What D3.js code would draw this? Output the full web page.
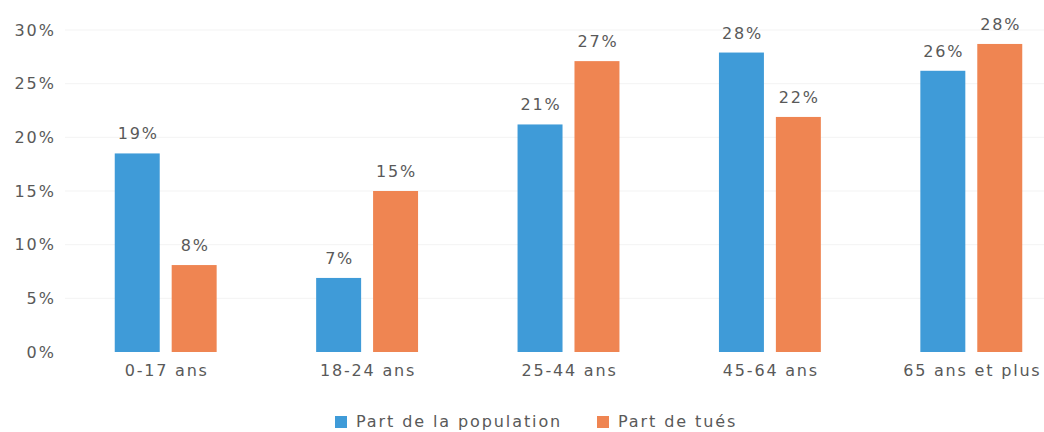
<!DOCTYPE html>
<html>
<head>
<meta charset="utf-8">
<script src="https://cdn.jsdelivr.net/npm/d3@7"></script>
<style>
  body { margin: 0; background: #fff; }
  text { font-family: "DejaVu Sans", sans-serif; fill: #595959; }
</style>
</head>
<body>
<svg id="chart" width="1044" height="432"></svg>
<script>
  // data
  var categories = ['0-17 ans', '18-24 ans', '25-44 ans', '45-64 ans', '65 ans et plus'];
  var seriesNames = ['Part de la population', 'Part de tués'];
  var population = [18.5, 6.9, 21.2, 27.9, 26.2];
  var tues = [8.1, 15.0, 27.1, 21.9, 28.7];
  var populationLabels = ['19%', '7%', '21%', '28%', '26%'];
  var tuesLabels = ['8%', '15%', '27%', '22%', '28%'];
  var yTicks = [0, 5, 10, 15, 20, 25, 30];
  var colors = ['#3f9bd8', '#ef8552'];

  var svg = d3.select('#chart');

  // plot area runs past the right edge like the original crop
  var y = d3.scaleLinear().domain([0, 30]).range([352, 30]);
  var x0 = d3.scaleBand().domain(categories).range([65, 1072]).padding(0);
  var step = x0.step();
  var x1 = d3.scaleBand().domain(seriesNames)
      .range([step * 0.247, step * 0.753])
      .paddingInner(0.21).paddingOuter(0);

  // faint gridlines
  svg.append('g')
    .selectAll('line')
    .data(yTicks.slice(1))
    .enter()
    .append('line')
    .attr('x1', 65).attr('x2', 1044)
    .attr('y1', function(d) { return y(d); })
    .attr('y2', function(d) { return y(d); })
    .attr('stroke', '#f3f3f3')
    .attr('stroke-width', 1);

  // y axis, no domain line
  var yAxis = d3.axisLeft(y)
      .tickValues(yTicks)
      .tickSize(0)
      .tickPadding(0)
      .tickFormat(function(d) { return d + '%'; });
  var gy = svg.append('g')
      .attr('transform', 'translate(56,0)')
      .call(yAxis);
  gy.select('.domain').remove();
  gy.selectAll('text')
    .style('font-family', '"DejaVu Sans", sans-serif')
    .style('font-size', '16px')
    .style('letter-spacing', '2px')
    .attr('fill', '#595959');

  var rows = categories.map(function(c, i) {
    return {
      cat: c,
      vals: [
        {name: seriesNames[0], v: population[i], label: populationLabels[i]},
        {name: seriesNames[1], v: tues[i], label: tuesLabels[i]}
      ]
    };
  });

  var groups = svg.append('g')
    .selectAll('g')
    .data(rows)
    .enter()
    .append('g')
    .attr('transform', function(d) { return 'translate(' + x0(d.cat) + ',0)'; });

  groups.selectAll('rect')
    .data(function(d) { return d.vals; })
    .enter()
    .append('rect')
    .attr('x', function(d) { return x1(d.name); })
    .attr('width', x1.bandwidth())
    .attr('y', function(d) { return y(d.v); })
    .attr('height', function(d) { return y(0) - y(d.v); })
    .attr('fill', function(d, i) { return colors[i]; });

  groups.selectAll('text.val')
    .data(function(d) { return d.vals; })
    .enter()
    .append('text')
    .attr('class', 'val')
    .attr('x', function(d) { return x1(d.name) + x1.bandwidth() / 2 + 1; })
    .attr('y', function(d) { return y(d.v) - 14; })
    .attr('text-anchor', 'middle')
    .style('font-size', '16px')
    .style('letter-spacing', '1.8px')
    .attr('fill', '#4a4a4a')
    .text(function(d) { return d.label; });

  // category labels
  var xAxis = d3.axisBottom(x0).tickSize(0).tickPadding(0);
  var gx = svg.append('g')
      .attr('transform', 'translate(1,365)')
      .call(xAxis);
  gx.select('.domain').remove();
  gx.selectAll('text')
    .style('font-family', '"DejaVu Sans", sans-serif')
    .style('font-size', '16px')
    .style('letter-spacing', '1.8px')
    .attr('fill', '#595959');

  // legend
  var legendX = [335, 597];
  var legend = svg.append('g')
    .selectAll('g')
    .data(seriesNames)
    .enter()
    .append('g')
    .attr('transform', function(d, i) { return 'translate(' + legendX[i] + ',415)'; });
  legend.append('rect')
    .attr('y', 1)
    .attr('width', 12).attr('height', 12)
    .attr('fill', function(d, i) { return colors[i]; });
  legend.append('text')
    .attr('x', 21).attr('y', 12)
    .style('font-size', '16px')
    .style('letter-spacing', '1.9px')
    .attr('fill', '#595959')
    .text(function(d) { return d; });
</script>
</body>
</html>
